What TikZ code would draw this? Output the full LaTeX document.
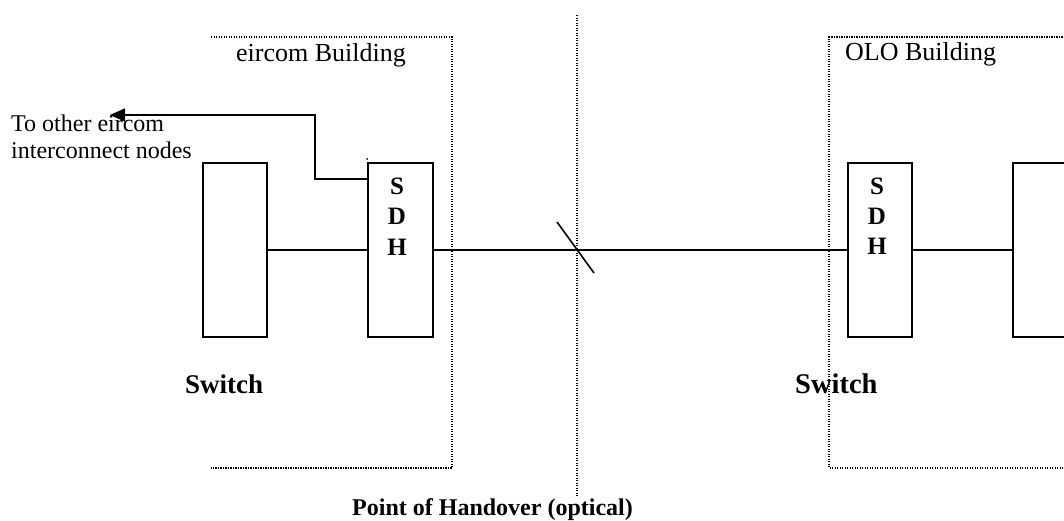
\documentclass[tikz,border=0pt]{standalone}
\usepackage{fontspec}
\setmainfont{Liberation Serif}
\usetikzlibrary{arrows.meta}
\tikzset{
  unitbox/.style={draw, line width=1.6pt, rectangle, inner sep=0pt, minimum width=64pt, minimum height=174pt},
  wire/.style={line width=1.6pt},
  dotline/.style={line width=1.2pt, dash pattern=on 1.1pt off 1.4pt},
  lbl/.style={font=\fontsize{24}{28}\selectfont, inner sep=0pt, anchor=base west},
  bld/.style={font=\fontsize{26}{30}\selectfont, inner sep=0pt, anchor=base west},
  sdh/.style={font=\fontsize{25}{28}\selectfont\bfseries, inner sep=0pt, anchor=base},
  sw/.style={font=\fontsize{27}{30}\selectfont\bfseries, inner sep=0pt, anchor=base west}
}
\begin{document}
\begin{tikzpicture}[x=1pt,y=-1pt]
\useasboundingbox (0,0) rectangle (1064,520);
\clip (0,0) rectangle (1064,520);
\fill[white] (0,0) rectangle (1064,520);
% building outlines
\draw[dotline] (211,37) -- (452,37) -- (452,468) -- (211,468);
\draw[dotline] (1070,37) -- (829,37) -- (829,468) -- (1070,468);
% point of handover
\coordinate (ph1) at (577,15);
\coordinate (ph2) at (577,497);
\draw[dotline] (ph1) -- (ph2);
% boxes
\node[unitbox] (lsw) at (235,250) {};
\node[unitbox, minimum width=65pt] (lsdh) at (400.5,250) {};
\node[unitbox] (rsdh) at (880,250) {};
\node[unitbox] (rsw) at (1045,250) {};
% SDH letters
\node[sdh] (ls) at (397,194) {S};
\node[sdh] (ld) at (397,224) {D};
\node[sdh] (lh) at (397,255) {H};
\node[sdh] (rs) at (877,194) {S};
\node[sdh] (rd) at (877,224) {D};
\node[sdh] (rh) at (877,254) {H};
% connections
\draw[wire] (lsw.east) -- (lsdh.west);
\draw[wire] (lsdh.east) -- (rsdh.west);
\draw[wire] (rsdh.east) -- (rsw.west);
% slash on fibre
\coordinate (sl1) at (557,222);
\coordinate (sl2) at (594,273);
\draw[wire] (sl1) -- (sl2);
% link to other nodes
\coordinate (tc) at (315,179);
\coordinate (ta) at (315,115);
\coordinate (tip) at (110,115);
\draw[wire, -{Triangle[length=15pt,width=13pt]}] (lsdh.west |- tc) -- (tc) -- (ta) -- (tip);
\fill (367,159) circle (1pt);
% texts
\node[lbl] (t1) at (11,131) {To other eircom};
\node[lbl] (t2) at (11,158) {interconnect nodes};
\node[bld] (eb) at (236,61) {eircom Building};
\node[bld] (ob) at (845,60) {OLO Building};
\node[sw] (sw1) at (185,393) {Switch};
\node[sw, font=\fontsize{28.5}{30}\selectfont\bfseries] (sw2) at (795,393) {Switch};
\node[sw, font=\fontsize{24}{28}\selectfont\bfseries] (poh) at (352,515) {Point of Handover (optical)};
\end{tikzpicture}
\end{document}
